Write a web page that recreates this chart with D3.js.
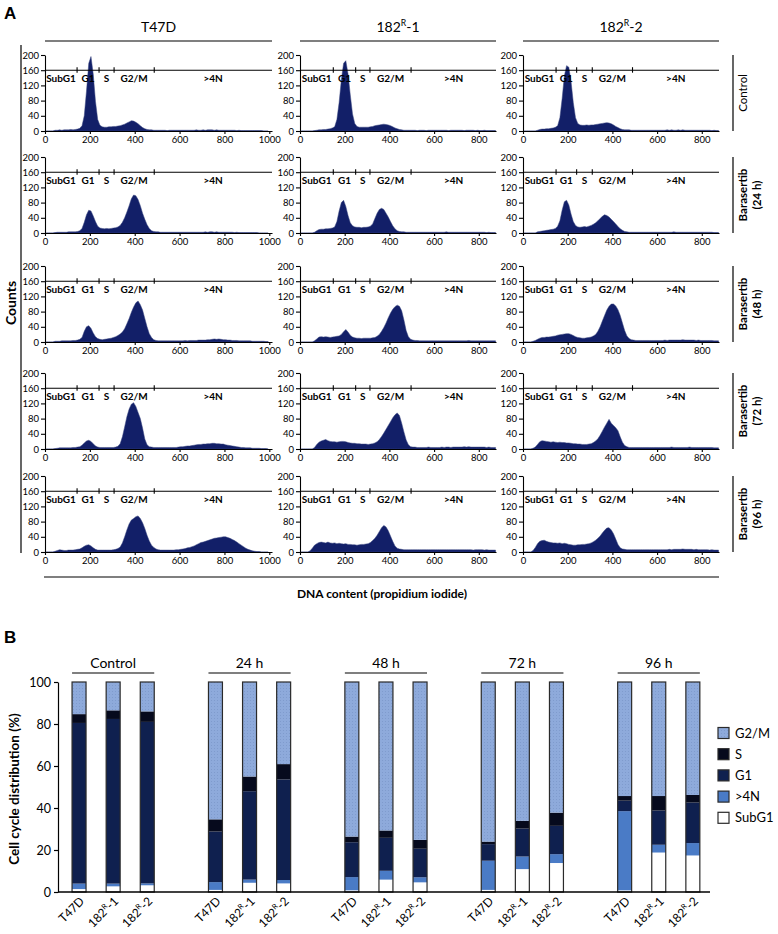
<!DOCTYPE html>
<html><head><meta charset="utf-8">
<script src="https://cdn.jsdelivr.net/npm/d3@7"></script>
<style>body{margin:0;background:#fff}svg text{font-family:Lato,"Open Sans",sans-serif;fill:#000}</style>
</head><body><svg id="c" width="778" height="934"></svg>
<script>
// ---------------- DATA ----------------
const cellLines = ["T47D", "182R-1", "182R-2"];
const rowLabels = [["Control"], ["Barasertib", "(24 h)"], ["Barasertib", "(48 h)"], ["Barasertib", "(72 h)"], ["Barasertib", "(96 h)"]];
const histXMax = [1012, 877, 877];
const histXTicks = [[0, 200, 400, 600, 800, 1000], [0, 200, 400, 600, 800], [0, 200, 400, 600, 800]];
const histYTicks = [0, 40, 80, 120, 160, 200];
const gateNames = ["SubG1", "G1", "S", "G2/M", ">4N"];
const gateBounds = [[143, 241, 308, 487], [149, 249, 313, 497], [148, 240, 310, 490]];
const binWidth = 10;

// counts per 10-unit DNA-content bin
const hT47D_ctrl = [0,0,0,0, 2,2,3,2,3,3,3,4,3,4,5, 7,14,40,105,178,196,150,78,30,15,
 11,10,10,11,11, 12,12,13,14,16, 18,21,24,27,26, 23,19,14,9,6, 4,3,3,2,2,
 2,2,2,2,1,2,2,2,2,2, 2,2,2,2,2,2,2,3,2,2, 3,2,3,3,3,2,3,2,2,2, 2,2,2,2,2,1,2,1,1,1, 1,1,1,1,1,1,1,0,0,0];
const hT47D_24 = [0,0,0,0, 1,2,2,2,2,2,3,3,3,3,4, 6,12,28,48,60,58,45,30,18,13,
 12,11,12,11,12, 13,14,16,20,28, 40,55,72,90,100, 98,88,72,52,36, 22,12,6,4,3,
 3,2,2,2,2,2,2,2,2,2, 2,2,2,2,2,2,2,2,2,2, 2,3,2,3,3,2,3,2,2,2, 2,2,2,2,1,2,1,1,1,1, 1,1,1,1,1,0,0,0,0,0];
const hT47D_48 = [0,0,0,0, 2,2,2,3,3,3,3,3,4,4,5, 7,12,28,40,43,36,24,14,9,7,
 6,7,8,9,10, 12,14,17,21,26, 35,48,62,78,92, 103,108,98,84,62, 40,22,12,6,4,
 3,3,3,3,3,3,3,3,3,3, 3,3,4,3,4,4,4,4,5,5, 5,5,6,6,7,8,7,8,7,6, 6,5,5,4,4,4,3,3,3,3, 3,3,2,2,2,2,2,2,1,1];
const hT47D_72 = [0,0,0,0, 1,2,3,3,3,3,3,3,4,4,5, 6,10,16,21,23,20,14,8,5,4,
 4,4,4,4,4, 4,5,7,14,32, 58,85,105,118,122, 112,96,80,55,26, 11,6,5,4,4,
 4,4,4,4,4,4,4,4,4,5, 6,6,7,8,8,9,10,11,12,12, 13,13,14,14,15,15,14,14,13,13, 11,10,9,8,7,6,5,4,4,3, 3,3,2,2,2,2,1,1,1,0];
const hT47D_96 = [0,0,0,0, 2,4,6,5,4,4,5,5,5,6,7, 8,11,15,18,19,16,11,7,5,5,
 5,5,5,5,5, 6,7,9,13,24, 40,58,74,84,88, 93,95,88,77,62, 44,29,18,12,8,
 6,5,5,5,5,5,5,5,6,6, 7,8,9,11,12,14,16,19,22,25, 26,28,30,32,34,36,37,38,39,40, 40,38,36,33,30,26,22,18,14,10, 7,5,3,2,1,1,0,0,0,0];

const hR1_ctrl = [0,0,0,0,0,0,1, 2,3,3,4,4,5,6,8, 11,30,75,135,178,185,150,95,45,20,
 12,10,10,10,10, 10,11,12,14,15, 16,17,18,17,16, 14,11,8,6,4, 3,2,2,2,2,
 2,2,1,2,2,2,1,2,2,2, 2,2,2,2,2,2,1,2,2,2, 2,2,2,1,2,2,2,2,1,2, 1,1,2,1,1,1,1,1];
const hR1_24 = [0,0,0,0,0,0, 2,6,9,10,10,11,11,12,13, 16,30,58,80,86,70,46,27,19,16,
 15,15,14,15,15, 16,18,24,38,52, 62,65,62,52,42, 30,19,11,6,4, 3,3,2,2,2,
 2,2,2,2,2,2,2,2,2,2, 2,2,2,2,2,3,2,2,2,2, 2,2,2,2,2,2,2,2,2,2, 2,2,2,1,2,1,1,1];
const hR1_48 = [0,0,0,0,0,0, 3,8,13,14,13,14,13,12,13, 14,15,16,20,27,33,26,18,13,11,
 10,10,9,10,10, 10,10,11,12,15, 20,28,38,50,64, 76,86,93,97,94, 82,58,30,14,7,
 5,4,4,3,3,3,3,3,3,3, 3,3,3,3,3,3,3,3,3,3, 3,3,3,3,3,4,3,3,3,3, 3,3,3,3,3,3,3,3];
const hR1_72 = [0,0,0,0,0,0, 4,12,18,21,23,25,22,20,19, 19,18,19,20,20,19,17,16,15,15,
 14,14,13,13,13, 12,13,14,16,19, 25,33,42,52,62, 72,82,90,95,88, 68,45,24,11,6,
 5,5,4,4,4,4,4,5,4,4, 4,4,4,5,4,5,5,4,5,5, 5,5,5,6,5,6,5,5,5,5, 5,5,5,4,5,4,4,4];
const hR1_96 = [0,0,0,0, 3,10,18,22,25,26,25,24,26,24,23, 24,22,23,22,21,22,20,20,19,19,
 18,19,20,20,21, 22,25,30,36,44, 54,64,70,66,56, 42,28,16,10,8, 7,6,6,6,6,
 6,6,6,6,6,6,6,6,6,6, 6,6,6,6,6,6,6,6,6,6, 6,6,6,6,6,6,6,5,6,6, 6,6,5,6,5,5,5,5];

const hR2_ctrl = [0,0,0,0,0,0, 2,4,5,5,6,6,7,8,10, 14,35,85,145,172,168,130,75,35,20,
 16,15,15,16,15, 16,16,17,18,19, 20,21,22,21,19, 16,12,9,6,4, 3,3,3,2,2,
 2,2,2,2,2,2,2,2,2,2, 2,2,2,2,3,2,3,2,2,3, 2,3,2,2,2,2,2,2,2,2, 2,2,2,2,1,2,1,1];
const hR2_24 = [0,0,0,0,0,0, 3,4,5,6,7,8,9,10,12, 18,32,60,82,86,74,50,30,20,16,
 15,16,17,16,18, 20,23,27,32,38, 44,48,46,42,36, 30,24,17,11,7, 4,3,2,2,2,
 2,2,2,2,2,2,2,2,2,2, 2,2,2,2,2,2,2,3,2,2, 2,2,2,2,2,2,2,2,2,2, 2,2,2,2,2,1,1,1];
const hR2_48 = [0,0,0,0, 2,4,7,10,12,12,13,13,14,15,16, 18,19,20,21,22,22,20,17,14,12,
 11,10,10,11,12, 13,16,20,28,40, 55,70,84,94,100, 100,95,85,70,50, 30,16,9,6,5,
 4,4,4,4,4,4,4,4,4,4, 4,4,4,5,4,5,5,5,5,5, 5,6,5,5,5,5,5,4,5,4, 4,4,4,4,4,3,3,3];
const hR2_72 = [0,0,0,0, 2,5,12,19,22,21,20,19,18,19,18, 17,18,17,17,16,16,15,14,14,13,
 13,12,12,12,13, 14,17,21,27,36, 47,58,68,78,68, 62,56,48,32,18, 9,6,4,4,4,
 4,4,4,4,4,4,4,4,4,4, 4,4,4,4,4,4,5,4,4,4, 4,4,4,4,5,4,4,4,4,4, 4,4,4,4,4,3,3,3];
const hR2_96 = [0,0,0,0, 4,12,22,28,30,31,28,26,25,24,24, 23,24,22,23,22,20,19,18,18,19,
 19,20,20,21,22, 24,27,31,36,42, 50,57,63,64,58, 48,34,20,11,8, 7,6,6,6,6,
 6,6,6,6,6,6,6,6,6,6, 6,6,6,6,6,7,6,7,7,7, 7,8,7,7,7,7,6,7,6,6, 6,6,6,5,6,5,5,5];

const histograms = [
  [hT47D_ctrl, hR1_ctrl, hR2_ctrl],
  [hT47D_24, hR1_24, hR2_24],
  [hT47D_48, hR1_48, hR2_48],
  [hT47D_72, hR1_72, hR2_72],
  [hT47D_96, hR1_96, hR2_96]
];

// Panel B: cell cycle distribution (%), bars ordered timepoint x cell line
const timepoints = ["Control", "24 h", "48 h", "72 h", "96 h"];
const phases = ["SubG1", ">4N", "G1", "S", "G2/M"];          // stacking order bottom -> top
const legendOrder = ["G2/M", "S", "G1", ">4N", "SubG1"];
const pctSubG1 = [1.4, 2.7, 3.2, 1.0, 4.4, 4.1, 0.8, 5.9, 4.6, 1.0, 10.9, 13.8, 0.8, 18.8, 17.4];
const pctGt4N  = [2.6, 1.3, 0.9, 3.7, 1.5, 1.6, 6.3, 4.2, 2.4, 13.9, 6.0, 4.2, 37.7, 3.7, 5.9];
const pctG1    = [76.5, 78.4, 76.9, 24.1, 42.1, 47.9, 16.6, 15.7, 13.6, 7.9, 13.3, 13.5, 5.0, 16.3, 19.3];
const pctS     = [4.2, 4.1, 5.0, 5.8, 7.0, 7.3, 2.7, 3.5, 4.2, 1.2, 3.7, 6.3, 2.2, 6.9, 3.6];
const pctG2M   = [15.3, 13.5, 14.0, 65.4, 45.0, 39.1, 73.6, 70.7, 75.2, 76.0, 66.1, 62.2, 54.3, 54.3, 53.8];
const barYTicks = [0, 20, 40, 60, 80, 100];

// ---------------- DRAW ----------------
const svg = d3.select("#c");
const histFill = "#121f68";
const phaseColor = {"G2/M": "#8eaadb", "S": "#060a1d", "G1": "#0f204f", ">4N": "#4a7bc6", "SubG1": "#ffffff"};

const defs = svg.append("defs");
const pat = defs.append("pattern").attr("id", "dots").attr("width", 3).attr("height", 3).attr("patternUnits", "userSpaceOnUse");
pat.append("rect").attr("width", 3).attr("height", 3).attr("fill", phaseColor["G2/M"]);
pat.append("rect").attr("x", 1).attr("y", 1).attr("width", 1).attr("height", 1).attr("fill", "#7f9bcd");

function superLabel(sel, name, mainSize) {
  const m = name.match(/^182R(-\d)$/);
  if (!m) { sel.text(name); return; }
  sel.append("tspan").text("182");
  sel.append("tspan").text("R").attr("font-size", mainSize * 0.62).attr("dy", -mainSize * 0.4);
  sel.append("tspan").text(m[1]).attr("dy", mainSize * 0.4);
}

// panel letters
svg.append("text").attr("x", 4).attr("y", 19).text("A")
  .style("font-family", "'Liberation Sans',Arial,sans-serif").attr("font-weight", "bold").attr("font-size", 17);
svg.append("text").attr("x", 4).attr("y", 643).text("B")
  .style("font-family", "'Liberation Sans',Arial,sans-serif").attr("font-weight", "bold").attr("font-size", 17);

// --- Panel A layout ---
const colX0 = [45, 300, 523], colX1 = [272, 496, 719];
const rowZero = [131, 233, 342, 449, 552];
const plotH = 76;

cellLines.forEach((name, c) => {
  const cx = (colX0[c] + colX1[c]) / 2;
  const t = svg.append("text").attr("x", cx).attr("y", 32).attr("text-anchor", "middle").attr("font-size", 14);
  superLabel(t, name, 14);
  svg.append("line").attr("x1", colX0[c]).attr("x2", colX1[c]).attr("y1", 41).attr("y2", 41)
    .attr("stroke", "#000").attr("stroke-width", 1.2);
});

histograms.forEach((row, r) => {
  row.forEach((vals, c) => {
    const x = d3.scaleLinear().domain([0, histXMax[c]]).range([colX0[c], colX1[c]]);
    const y = d3.scaleLinear().domain([0, 200]).range([rowZero[r], rowZero[r] - plotH]);
    const g = svg.append("g");
    const pts = vals.map((v, i) => [i * binWidth + binWidth / 2, v]);
    const area = d3.area().x(d => x(d[0])).y0(y(0)).y1(d => y(d[1])).curve(d3.curveLinear);
    g.append("path").datum(pts).attr("d", area).attr("fill", histFill)
      .attr("stroke", "#3b4680").attr("stroke-width", 0.5);
    // gate bar
    const gy = y(160);
    g.append("line").attr("x1", x(0)).attr("x2", x(histXMax[c])).attr("y1", gy).attr("y2", gy)
      .attr("stroke", "#000").attr("stroke-width", 1.1);
    gateBounds[c].forEach(b => {
      g.append("line").attr("x1", x(b)).attr("x2", x(b)).attr("y1", gy - 3).attr("y2", gy + 2.5)
        .attr("stroke", "#000").attr("stroke-width", 1.1);
    });
    const edges = [0, ...gateBounds[c], histXMax[c]];
    gateNames.forEach((gn, k) => {
      g.append("text").attr("x", x((edges[k] + edges[k + 1]) / 2)).attr("y", gy + 12)
        .attr("text-anchor", "middle").attr("font-size", 10).attr("font-weight", "bold").text(gn);
    });
    // axes
    const ya = g.append("g").attr("transform", `translate(${x(0)},0)`)
      .call(d3.axisLeft(y).tickValues(histYTicks).tickSize(4).tickSizeOuter(0).tickPadding(2).tickFormat(d3.format("d")));
    const xa = g.append("g").attr("transform", `translate(0,${y(0)})`)
      .call(d3.axisBottom(x).tickValues(histXTicks[c]).tickSize(3).tickSizeOuter(0).tickPadding(2).tickFormat(d3.format("d")));
    [ya, xa].forEach(a => {
      a.selectAll("text").attr("font-size", 9.5).style("font-family", "Lato,sans-serif").attr("fill", "#000");
      a.selectAll("line,path").attr("stroke", "#000").attr("stroke-width", 1.1);
    });
  });
  // right row label
  const yTop = rowZero[r] - plotH, yBot = rowZero[r], ym = (yTop + yBot) / 2;
  svg.append("line").attr("x1", 733).attr("x2", 733).attr("y1", yTop).attr("y2", yBot)
    .attr("stroke", "#000").attr("stroke-width", 1.2);
  const lines = rowLabels[r];
  lines.forEach((s, k) => {
    const bx = lines.length === 1 ? 747 : (k === 0 ? 747 : 761);
    svg.append("text").attr("transform", `translate(${bx},${ym}) rotate(-90)`)
      .attr("text-anchor", "middle").attr("font-size", 11.5)
      .attr("font-weight", lines.length === 1 ? "normal" : "bold").text(s);
  });
});

// Counts label and frame lines
svg.append("line").attr("x1", 21).attr("x2", 21).attr("y1", 45).attr("y2", 553).attr("stroke", "#000").attr("stroke-width", 1.2);
svg.append("text").attr("transform", "translate(16,303) rotate(-90)").attr("text-anchor", "middle")
  .attr("font-size", 14).attr("font-weight", "bold").text("Counts");
svg.append("line").attr("x1", 44).attr("x2", 719).attr("y1", 577).attr("y2", 577).attr("stroke", "#000").attr("stroke-width", 1.2);
svg.append("text").attr("x", 382).attr("y", 598).attr("text-anchor", "middle")
  .attr("font-size", 12).attr("font-weight", "bold").text("DNA content (propidium iodide)");

// --- Panel B ---
const yB = d3.scaleLinear().domain([0, 100]).range([892, 682]);
const xG = d3.scaleBand().domain(timepoints).range([62, 744]).paddingInner(0).paddingOuter(0);
const xL = d3.scaleBand().domain([...cellLines, "gap"]).range([0, xG.bandwidth()]).paddingInner(0.59).paddingOuter(0.295);

const rows = [];
timepoints.forEach((tp, gi) => cellLines.forEach((cl, li) => {
  const k = gi * 3 + li;
  rows.push({tp, cl, "SubG1": pctSubG1[k], ">4N": pctGt4N[k], "G1": pctG1[k], "S": pctS[k], "G2/M": pctG2M[k]});
}));
const stacked = d3.stack().keys(phases)(rows);

const gB = svg.append("g");
stacked.forEach(layer => {
  gB.append("g").selectAll("rect").data(layer).join("rect")
    .attr("x", d => xG(d.data.tp) + xL(d.data.cl))
    .attr("width", xL.bandwidth())
    .attr("y", d => yB(d[1]))
    .attr("height", d => yB(d[0]) - yB(d[1]))
    .attr("fill", layer.key === "G2/M" ? "url(#dots)" : phaseColor[layer.key]);
});
gB.append("g").selectAll("rect").data(rows).join("rect")
  .attr("x", d => xG(d.tp) + xL(d.cl)).attr("width", xL.bandwidth())
  .attr("y", d => yB(d3.sum(phases, p => d[p]))).attr("height", d => yB(0) - yB(d3.sum(phases, p => d[p])))
  .attr("fill", "none").attr("stroke", "#2a2a2a").attr("stroke-width", 1.2);

// group titles
timepoints.forEach(tp => {
  const a = xG(tp) + xL(cellLines[0]), b = xG(tp) + xL(cellLines[2]) + xL.bandwidth();
  gB.append("line").attr("x1", a).attr("x2", b).attr("y1", 673).attr("y2", 673).attr("stroke", "#000").attr("stroke-width", 1.1);
  gB.append("text").attr("x", (a + b) / 2).attr("y", 668).attr("text-anchor", "middle").attr("font-size", 14).text(tp);
});

// axes
const yAx = gB.append("g").attr("transform", "translate(58,0)")
  .call(d3.axisLeft(yB).tickValues(barYTicks).tickSize(4).tickSizeOuter(0).tickPadding(3));
yAx.selectAll("text").attr("font-size", 12.5).style("font-family", "Lato,sans-serif").attr("fill", "#000");
yAx.selectAll("line,path").attr("stroke", "#000").attr("stroke-width", 1.2);
gB.append("line").attr("x1", 58).attr("x2", 710).attr("y1", yB(0)).attr("y2", yB(0)).attr("stroke", "#000").attr("stroke-width", 1.3);

rows.forEach(d => {
  const cx = xG(d.tp) + xL(d.cl) + xL.bandwidth() / 2;
  const t = gB.append("text").attr("transform", `translate(${cx + 6},${yB(0) + 10}) rotate(-45)`)
    .attr("text-anchor", "end").attr("font-size", 12);
  superLabel(t, d.cl, 12);
});

svg.append("text").attr("transform", "translate(19,789) rotate(-90)").attr("text-anchor", "middle")
  .attr("font-size", 13.5).attr("font-weight", "bold").text("Cell cycle distribution (%)");

// legend
legendOrder.forEach((p, i) => {
  const ly = 733 + i * 21.2;
  svg.append("rect").attr("x", 718).attr("y", ly - 5.5).attr("width", 11).attr("height", 11)
    .attr("fill", p === "G2/M" ? "url(#dots)" : phaseColor[p]).attr("stroke", "#2a2a2a").attr("stroke-width", 1.2);
  svg.append("text").attr("x", 735).attr("y", ly + 4.5).attr("font-size", 13).text(p);
});
</script></body></html>
